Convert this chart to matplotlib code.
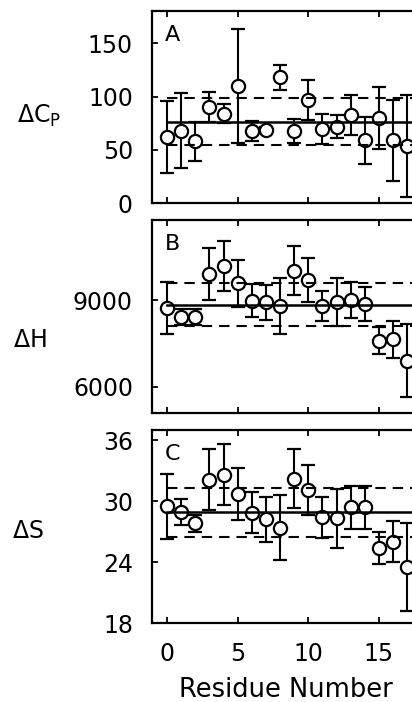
import numpy as np
import matplotlib.pyplot as plt

plt.rcParams['font.family'] = 'DejaVu Sans'
plt.rcParams['mathtext.fontset'] = 'dejavusans'
plt.rcParams['lines.scale_dashes'] = False

residue = np.arange(18)

# heat capacity change per residue
cp = [62, 68, 58, 90, 84, 110, 68, 69, 118, 68, 97, 70, 72, 83, 59, 80, 59, 54]
cp_err = [34, 35, 18, 14, 9, 53, 9.5, 3, 12, 11, 19, 14, 10.5, 19, 22, 29, 38, 48]
cp_mean, cp_sd = 76.5, 21.8

# enthalpy change per residue
dh = [8713, 8401, 8401, 9900, 10177, 9578, 8976, 8920, 8792, 10014,
      9692, 8792, 8920, 9000, 8862, 7592, 7640, 6900]
dh_err = [900, 280, 280, 890, 875, 806, 578, 600, 960, 855,
          750, 530, 830, 633, 578, 463, 644, 1260]
dh_mean, dh_sd = 8845, 733

# entropy change per residue
ds = [29.5, 28.95, 27.8, 32.1, 32.6, 30.7, 28.85, 28.2, 27.4, 32.2,
      31.1, 28.4, 28.3, 29.4, 29.4, 25.4, 26.0, 23.5]
ds_err = [3.2, 1.3, 0.8, 3.0, 3.0, 2.6, 2.0, 2.2, 3.2, 2.9,
          2.5, 2.0, 2.9, 2.1, 2.1, 1.55, 2.0, 4.3]
ds_mean, ds_sd = 28.9, 2.4

panels = [
    (cp, cp_err, cp_mean, cp_sd, (0, 180.6), [0, 50, 100, 150], 'A'),
    (dh, dh_err, dh_mean, dh_sd, (5080, 11770), [6000, 9000], 'B'),
    (ds, ds_err, ds_mean, ds_sd, (18, 37), [18, 24, 30, 36], 'C'),
]
boxes = [
    [0.370, 0.7104, 0.687, 0.2744],
    [0.370, 0.4113, 0.687, 0.2753],
    [0.370, 0.1125, 0.687, 0.2750],
]

fig = plt.figure(figsize=(4.12, 7.02), dpi=100)

for i, (vals, errs, mean, sd, ylim, yticks, tag) in enumerate(panels):
    ax = fig.add_axes(boxes[i])
    ax.errorbar(residue, vals, yerr=errs, fmt='o', ms=9.5, mfc='white',
                mec='black', mew=1.6, ecolor='black', elinewidth=1.5,
                capsize=5, capthick=1.7, zorder=2)
    xs = [0, 19]
    ax.plot(xs, [mean, mean], color='black', lw=1.8, zorder=3)
    for y in (mean + sd, mean - sd):
        ax.plot(xs, [y, y], color='black', lw=1.5, dashes=(7.5, 5), zorder=3)

    ax.set_xlim(-1.03, 19)
    ax.set_ylim(*ylim)
    ax.set_xticks([0, 5, 10, 15])
    ax.set_yticks(yticks)
    ax.tick_params(direction='in', length=4, width=1.3, top=True,
                   labelsize=17, pad=14)
    if i < 2:
        ax.tick_params(labelbottom=False)
    for s in ax.spines.values():
        s.set_linewidth(1.6)
    ax.text(0.045, 0.845, tag, transform=ax.transAxes, fontsize=16,
            ha='left', va='baseline')

fig.text(17 / 412, 1 - 123 / 702, r'$\Delta$C$_\mathrm{P}$', fontsize=17,
         ha='left', va='baseline')
fig.text(13 / 412, 1 - 347 / 702, r'$\Delta$H', fontsize=17,
         ha='left', va='baseline')
fig.text(12 / 412, 1 - 538 / 702, r'$\Delta$S', fontsize=17,
         ha='left', va='baseline')
fig.text(286 / 412, 1 - 690 / 702, 'Residue Number', fontsize=18.5,
         ha='center', va='center')

fig.savefig('out.png', dpi=100)
